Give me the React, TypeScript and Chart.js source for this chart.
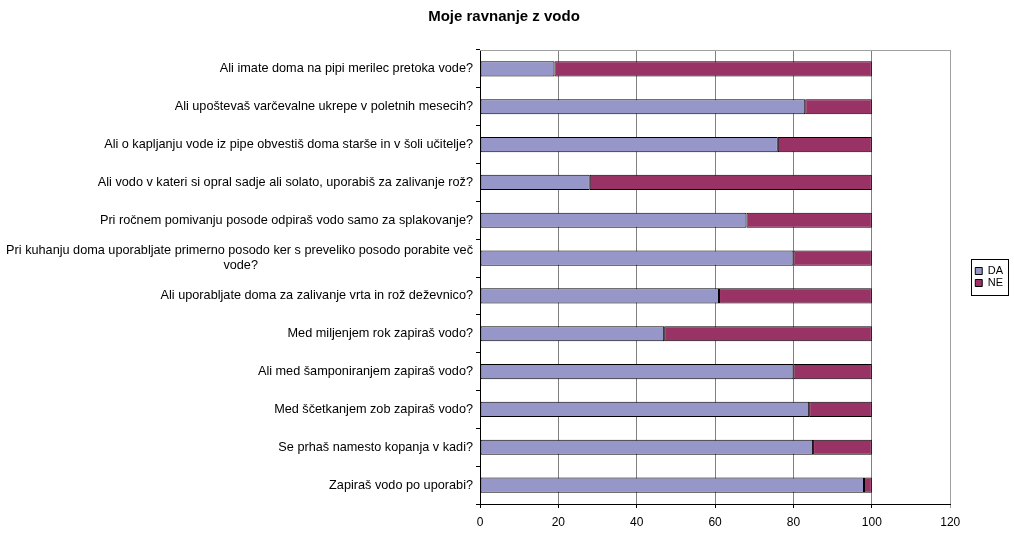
import { useEffect, useRef } from "react";
import { Chart, registerables } from "chart.js";

Chart.register(...registerables);

const TITLE = "Moje ravnanje z vodo";
const categories = [
  "Ali imate doma na pipi merilec pretoka vode?",
  "Ali upoštevaš varčevalne ukrepe v poletnih mesecih?",
  "Ali o kapljanju vode iz pipe obvestiš doma starše in v šoli učitelje?",
  "Ali vodo v kateri si opral sadje ali solato, uporabiš za zalivanje rož?",
  "Pri ročnem pomivanju posode odpiraš vodo samo za splakovanje?",
  "Pri kuhanju doma uporabljate primerno posodo ker s preveliko posodo porabite več vode?",
  "Ali uporabljate doma za zalivanje vrta in rož deževnico?",
  "Med miljenjem rok zapiraš vodo?",
  "Ali med šamponiranjem zapiraš vodo?",
  "Med ščetkanjem zob zapiraš vodo?",
  "Se prhaš namesto kopanja v kadi?",
  "Zapiraš vodo po uporabi?",
];
const seriesNames = ["DA", "NE"];
const daValues = [19, 83, 76, 28, 68, 80, 61, 47, 80, 84, 85, 98];
const neValues = [81, 17, 24, 72, 32, 20, 39, 53, 20, 16, 15, 2];
const xTicks = [0, 20, 40, 60, 80, 100, 120];

const FONT = '"Liberation Sans", Arial, sans-serif';
const LABEL_SIZE = 12.7;

function wrapLabel(text: string, maxWidth: number): string | string[] {
  const c = document.createElement("canvas").getContext("2d")!;
  c.font = `${LABEL_SIZE}px ${FONT}`;
  if (c.measureText(text).width <= maxWidth) return text;
  const words = text.split(" ");
  const lines: string[] = [];
  let cur = "";
  for (const w of words) {
    const t = cur ? cur + " " + w : w;
    if (c.measureText(t).width > maxWidth && cur) {
      lines.push(cur);
      cur = w;
    } else cur = t;
  }
  lines.push(cur);
  const widest = Math.max(...lines.map((l) => c.measureText(l).width));
  const sp = c.measureText(" ").width;
  // center-align wrapped lines (axis draws them right-aligned)
  return lines.map((l) => {
    const pad = Math.round((widest - c.measureText(l).width) / 2 / sp);
    return l + " ".repeat(Math.max(0, pad));
  });
}

const framePlugin = {
  id: "frame",
  afterLayout(chart: any) {
    const lg = chart.legend;
    if (lg) {
      const left = chart.chartArea.right + 24;
      const w = lg.width;
      lg.left = left;
      lg.right = left + w;
    }
    const tb = chart.titleBlock;
    if (tb) {
      tb.left += 6.5;
      tb.right += 6.5;
    }
  },
  afterDraw(chart: any) {
    const { ctx, chartArea } = chart;
    ctx.save();
    ctx.lineWidth = 1;
    ctx.strokeStyle = "#a0a0a0";
    ctx.beginPath();
    const ty = Math.round(chartArea.top) + 0.5;
    ctx.moveTo(chartArea.left, ty);
    ctx.lineTo(chartArea.right, ty);
    ctx.stroke();
    const lg = chart.legend;
    if (lg) {
      const cy = (lg.top + lg.bottom) / 2;
      ctx.strokeStyle = "#000";
      ctx.strokeRect(Math.round(lg.left) - 2.5, Math.round(cy - 18) + 0.5, 37, 36);
    }
    ctx.restore();
  },
};

export default function App() {
  const ref = useRef<HTMLCanvasElement>(null);
  useEffect(() => {
    if (!ref.current) return;
    Chart.defaults.font.family = FONT;
    Chart.defaults.color = "#000";
    const labels = categories.map((c) => wrapLabel(c, 478));
    const chart = new Chart(ref.current, {
      type: "bar",
      data: {
        labels,
        datasets: [
          {
            label: seriesNames[0],
            data: daValues,
            backgroundColor: "#9696c8",
            borderColor: "#000",
            borderWidth: 1,
            borderSkipped: false,
            barPercentage: 0.4,
            categoryPercentage: 1,
          },
          {
            label: seriesNames[1],
            data: neValues,
            backgroundColor: "#993366",
            borderColor: "#000",
            borderWidth: 1,
            borderSkipped: false,
            barPercentage: 0.4,
            categoryPercentage: 1,
          },
        ],
      },
      options: {
        indexAxis: "y",
        responsive: false,
        animation: false,
        layout: { padding: { left: 6, right: 25, top: 0, bottom: 0 } },
        scales: {
          x: {
            stacked: true,
            min: xTicks[0],
            max: xTicks[xTicks.length - 1],
            afterBuildTicks: (scale: any) => {
              scale.ticks = xTicks.map((v) => ({ value: v }));
            },
            ticks: {
              font: { size: 12, lineHeight: 1 },
              padding: 9,
              color: "#000",
              maxRotation: 0,
            },
            grid: {
              color: (ctx: any) => (ctx.tick && ctx.tick.value === 120 ? "#a0a0a0" : "#808080"),
              tickColor: (ctx: any) => (ctx.tick && ctx.tick.value === 120 ? "#a0a0a0" : "#000"),
              tickLength: 4,
              lineWidth: 1,
            },
            border: { display: true, color: "#000", width: 1 },
          },
          y: {
            stacked: true,
            afterFit: (scale: any) => {
              scale.width = 474;
            },
            ticks: {
              font: { size: LABEL_SIZE, lineHeight: 1.18 },
              padding: 3,
              color: "#000",
              autoSkip: false,
            },
            grid: {
              display: true,
              drawOnChartArea: false,
              drawTicks: true,
              tickLength: 4,
              color: "#000",
              offset: true,
            },
            border: { display: true, color: "#000", width: 1 },
          },
        },
        plugins: {
          title: {
            display: true,
            text: TITLE,
            font: { size: 15, weight: "bold", lineHeight: 1.2 },
            color: "#000",
            padding: { top: 7.5, bottom: 24.5 },
          },
          legend: {
            position: "right",
            fullSize: false,
            labels: {
              boxWidth: 7,
              boxHeight: 7,
              padding: 1,
              color: "#000",
              font: { size: 11, lineHeight: "12px" },
            },
          },
          tooltip: { enabled: false },
        },
      },
      plugins: [framePlugin],
    } as any);
    return () => chart.destroy();
  }, []);
  return (
    <div style={{ position: "absolute", left: 0, top: 0, width: 1014, height: 538 }}>
      <canvas ref={ref} width={1014} height={538} style={{ display: "block" }} />
    </div>
  );
}
